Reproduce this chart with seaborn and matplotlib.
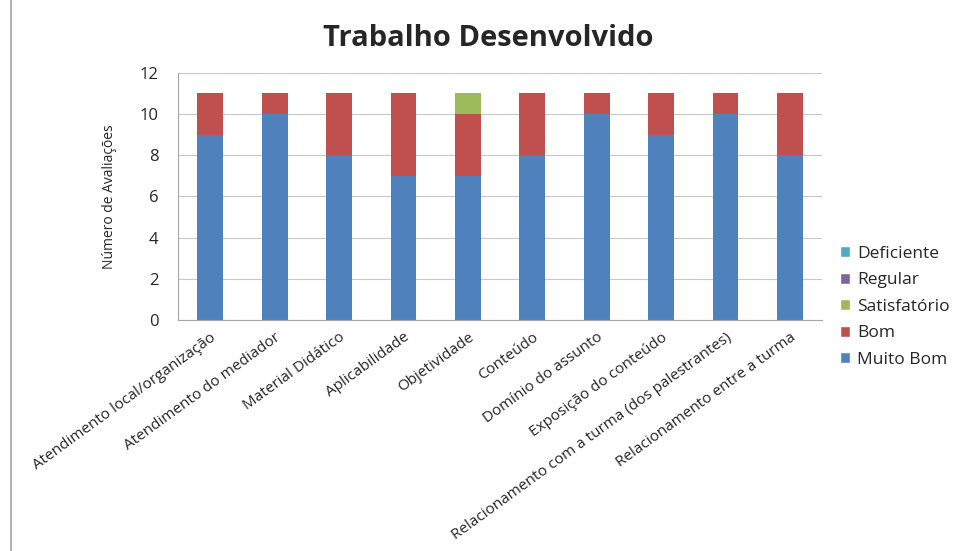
import numpy as np
import pandas as pd
import seaborn as sns
import matplotlib.pyplot as plt
from matplotlib.patches import Patch

#### DATA ####

categories = ['Atendimento local/organização', 'Atendimento do mediador', 'Material Didático',
              'Aplicabilidade', 'Objetividade', 'Conteúdo', 'Domínio do assunto',
              'Exposição do conteúdo', 'Relacionamento com a turma (dos palestrantes)',
              'Relacionamento entre a turma']
muito_bom = [9, 10, 8, 7, 7, 8, 10, 9, 10, 8]
bom = [2, 1, 3, 4, 3, 3, 1, 2, 1, 3]
satisfatorio = [0, 0, 0, 0, 1, 0, 0, 0, 0, 0]
regular = [0, 0, 0, 0, 0, 0, 0, 0, 0, 0]
deficiente = [0, 0, 0, 0, 0, 0, 0, 0, 0, 0]

series = ['Muito Bom', 'Bom', 'Satisfatório', 'Regular', 'Deficiente']
colors = ['#4F81BD', '#C0504D', '#9BBB59', '#8064A2', '#4BACC6']

#### PLOT ####

sns.set_style('white')
plt.rcParams['font.family'] = ['Open Sans', 'DejaVu Sans']

df = pd.DataFrame({'Categoria': categories, 'Muito Bom': muito_bom, 'Bom': bom,
                   'Satisfatório': satisfatorio, 'Regular': regular, 'Deficiente': deficiente})
cum = df[series].cumsum(axis=1)

fig = plt.figure(figsize=(9.73, 5.51), dpi=100)
ax = fig.add_axes([0.183, 0.419, 0.662, 0.449])

# draw from top of stack down so lower segments cover upper ones
for s, c in reversed(list(zip(series, colors))):
    sns.barplot(x=df['Categoria'], y=cum[s], color=c, width=0.4, ax=ax,
                saturation=1, edgecolor='none')

ax.set_ylim(0, 12)
ax.set_yticks(range(0, 13, 2))
ax.set_xlim(-0.5, len(categories) - 0.5)
ax.yaxis.grid(True, color='#C8C8C8', linewidth=0.8)
ax.set_axisbelow(True)
for side in ['top', 'right']:
    ax.spines[side].set_visible(False)
for side in ['left', 'bottom']:
    ax.spines[side].set_color('#A6A6A6')

ax.set_xticks(np.arange(len(categories)))
ax.set_xticklabels(categories, rotation=36, ha='right', rotation_mode='anchor', fontsize=11)
ax.tick_params(axis='x', length=0, pad=7)
ax.set_xticks(np.arange(-0.5, len(categories)), minor=True)
ax.tick_params(axis='x', which='minor', length=4, color='#A6A6A6')
ax.tick_params(axis='y', length=4, color='#A6A6A6', labelsize=12, pad=10)
ax.set_xlabel('')
ax.set_ylabel('Número de Avaliações', fontsize=10, labelpad=16)

fig.text(0.502, 0.93, 'Trabalho Desenvolvido', ha='center', va='center',
         fontsize=21, fontweight='bold')

handles = [Patch(facecolor=c, label=s) for s, c in zip(series, colors)][::-1]
fig.legend(handles=handles, loc='center left', bbox_to_anchor=(0.847, 0.443), frameon=False,
           fontsize=12.5, handlelength=0.6, handleheight=0.6, labelspacing=0.6, handletextpad=0.4)

fig.add_artist(plt.Line2D([0.011, 0.011], [0, 1], color='#A6A6A6', linewidth=1.2))

plt.savefig('out.png', dpi=100)
plt.close()
